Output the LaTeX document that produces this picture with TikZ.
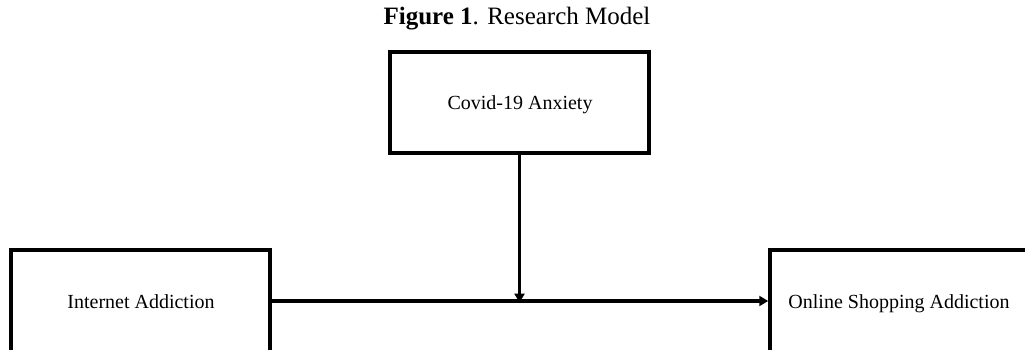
\documentclass[tikz,border=0pt]{standalone}
\usepackage{fontspec}
\setmainfont{Liberation Serif}
\usetikzlibrary{arrows.meta}
\begin{document}
\begin{tikzpicture}[x=1pt,y=-1pt,
  box/.style={draw=black,line width=3.5pt,rectangle,inner sep=0pt},
  lbl/.style={anchor=base,inner sep=0pt,font=\fontsize{20}{24}\selectfont},
  conn/.style={line width=3.3pt,-{Triangle[length=9pt,width=10pt]}}]
\useasboundingbox (0,0) rectangle (1025,350);
\clip (0,0) rectangle (1025,350);
\node[anchor=base,inner sep=0pt,font=\fontsize{25}{30}\selectfont] (title) at (517,25) {\textbf{Figure 1}. Research Model};
\node[box,minimum width=259pt,minimum height=101pt] (cov) at (519.5,102.5) {};
\node[lbl] (covtext) at (520,110) {Covid-19 Anxiety};
\node[box,minimum width=259pt,minimum height=102pt] (int) at (140.5,301) {};
\node[lbl] (inttext) at (141,308) {Internet Addiction};
\node[box,minimum width=262pt,minimum height=102pt] (osa) at (901,301) {};
\node[lbl] (osatext) at (899,308) {Online Shopping Addiction};
\coordinate (mid) at (cov.south |- int.east);
\draw[conn] (int.east) -- (osa.west);
\draw[conn] (cov.south) -- ([yshift=-1.6pt]mid);
\end{tikzpicture}
\end{document}
